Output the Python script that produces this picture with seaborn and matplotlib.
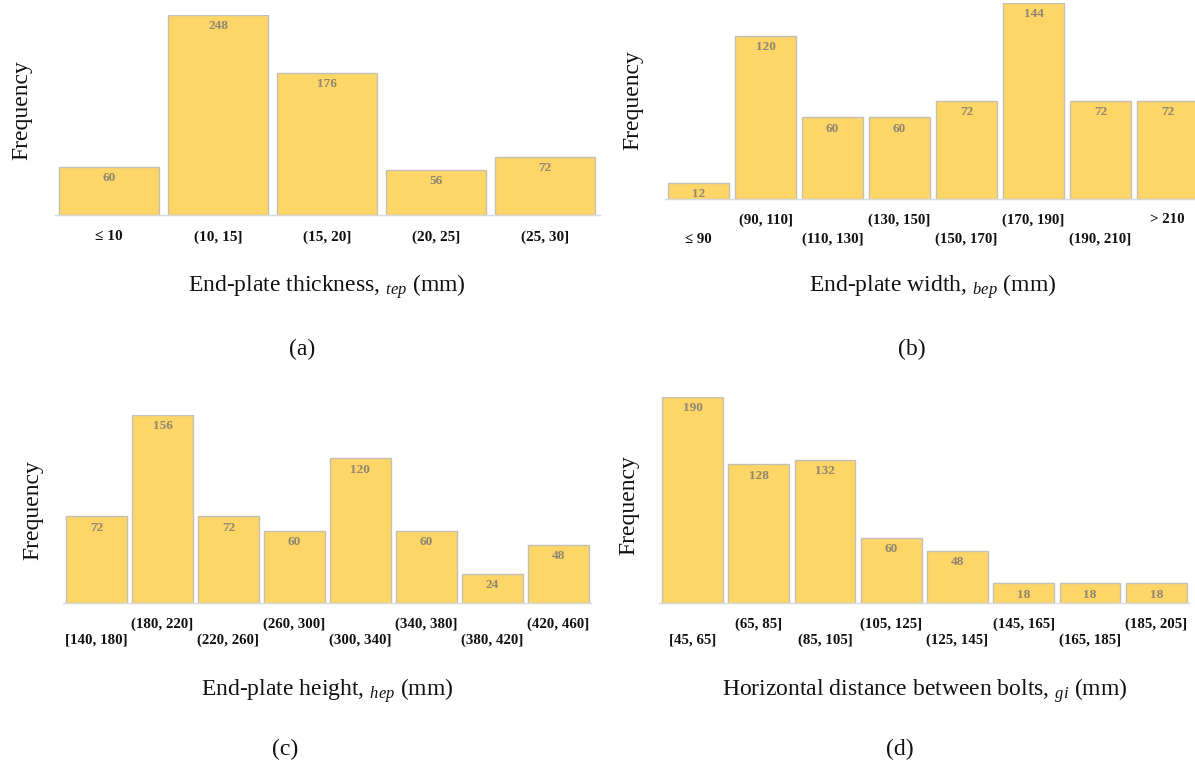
import matplotlib
matplotlib.use("Agg")
import matplotlib.pyplot as plt
import seaborn as sns
import pandas as pd

# Frequency of each parameter range in the end-plate connection database
thk_labels = ["≤ 10", "(10, 15]", "(15, 20]", "(20, 25]", "(25, 30]"]
thk_counts = [60, 248, 176, 56, 72]

wid_labels = ["≤ 90", "(90, 110]", "(110, 130]", "(130, 150]", "(150, 170]",
              "(170, 190]", "(190, 210]", "> 210"]
wid_counts = [12, 120, 60, 60, 72, 144, 72, 72]

hgt_labels = ["[140, 180]", "(180, 220]", "(220, 260]", "(260, 300]",
              "(300, 340]", "(340, 380]", "(380, 420]", "(420, 460]"]
hgt_counts = [72, 156, 72, 60, 120, 60, 24, 48]

gau_labels = ["[45, 65]", "(65, 85]", "(85, 105]", "(105, 125]",
              "(125, 145]", "(145, 165]", "(165, 185]", "(185, 205]"]
gau_counts = [190, 128, 132, 60, 48, 18, 18, 18]

sns.set_theme(style="white")
plt.rcParams["font.family"] = ["Liberation Serif", "DejaVu Serif"]
plt.rcParams["mathtext.fontset"] = "custom"
plt.rcParams["mathtext.rm"] = "Liberation Serif"
plt.rcParams["mathtext.it"] = "Liberation Serif:italic"

BAR = "#FDD667"
EDGE = "#C4C0B4"
VAL = "#8C8672"

fig = plt.figure(figsize=(11.95, 7.65), dpi=100)

panels = [
    # labels, counts, axes rect, bar width, xlabel, label y, tick pads, tick size,
    # ylabel pos, caption, caption pos
    (thk_labels, thk_counts, [0.0457, 0.7190, 0.4561, 0.2614], 0.92,
     r"End-plate thickness, ${}_{tep}$ (mm)", -0.285, (11.0, 11.0), 11.0,
     (-0.040, 0.525), "(a)", (0.2527, 0.529)),
    (wid_labels, wid_counts, [0.5565, 0.7399, 0.4485, 0.2562], 0.905,
     r"End-plate width, ${}_{bep}$ (mm)", -0.372, (24.4, 10.2), 10.7,
     (-0.041, 0.505), "(b)", (0.7632, 0.529)),
    (hgt_labels, hgt_counts, [0.0531, 0.2118, 0.4418, 0.2458], 0.924,
     r"End-plate height, ${}_{hep}$ (mm)", -0.388, (22.2, 10.2), 10.7,
     (-0.039, 0.495), "(c)", (0.2385, 0.0063)),
    (gau_labels, gau_counts, [0.5518, 0.2118, 0.4435, 0.2693], 0.92,
     r"Horizontal distance between bolts, ${}_{gi}$ (mm)", -0.354, (22.2, 10.2), 10.7,
     (-0.038, 0.476), "(d)", (0.7531, 0.0063)),
]

for (labels, counts, rect, bw, xlab, xly, pads, tsize,
     ylpos, cap, cappos) in panels:
    ax = fig.add_axes(rect)
    df = pd.DataFrame({"range": labels, "count": counts})
    sns.barplot(data=df, x="range", y="count", order=labels, color=BAR,
                saturation=1, width=bw, edgecolor=EDGE, linewidth=1.0, ax=ax)
    ax.bar_label(ax.containers[0], labels=[str(v) for v in counts],
                 padding=-12.5, fontsize=9.5, fontweight="bold", color=VAL)
    ax.set_xlim(-0.5, len(labels) - 0.5)
    ax.set_ylim(0, max(counts))
    ax.set_yticks([])
    for side in ("top", "right", "left"):
        ax.spines[side].set_visible(False)
    ax.spines["bottom"].set_color("#DADADA")
    ax.spines["bottom"].set_linewidth(1.0)

    ax.set_xticks(range(len(labels)))
    ax.set_xticklabels(labels, fontsize=tsize, fontweight="bold", color="#111111")
    ax.tick_params(axis="x", length=0)
    for i, tick in enumerate(ax.xaxis.get_major_ticks()):
        tick.set_pad(pads[i % 2])

    ax.set_xlabel(xlab, fontsize=17, color="#111111")
    ax.xaxis.set_label_coords(0.5, xly)
    ax.set_ylabel("Frequency", fontsize=17, color="#111111")
    ax.yaxis.set_label_coords(*ylpos)

    fig.text(cappos[0], cappos[1], cap, fontsize=17, ha="center", va="bottom",
             color="#111111")

fig.savefig("out.png", dpi=100)
